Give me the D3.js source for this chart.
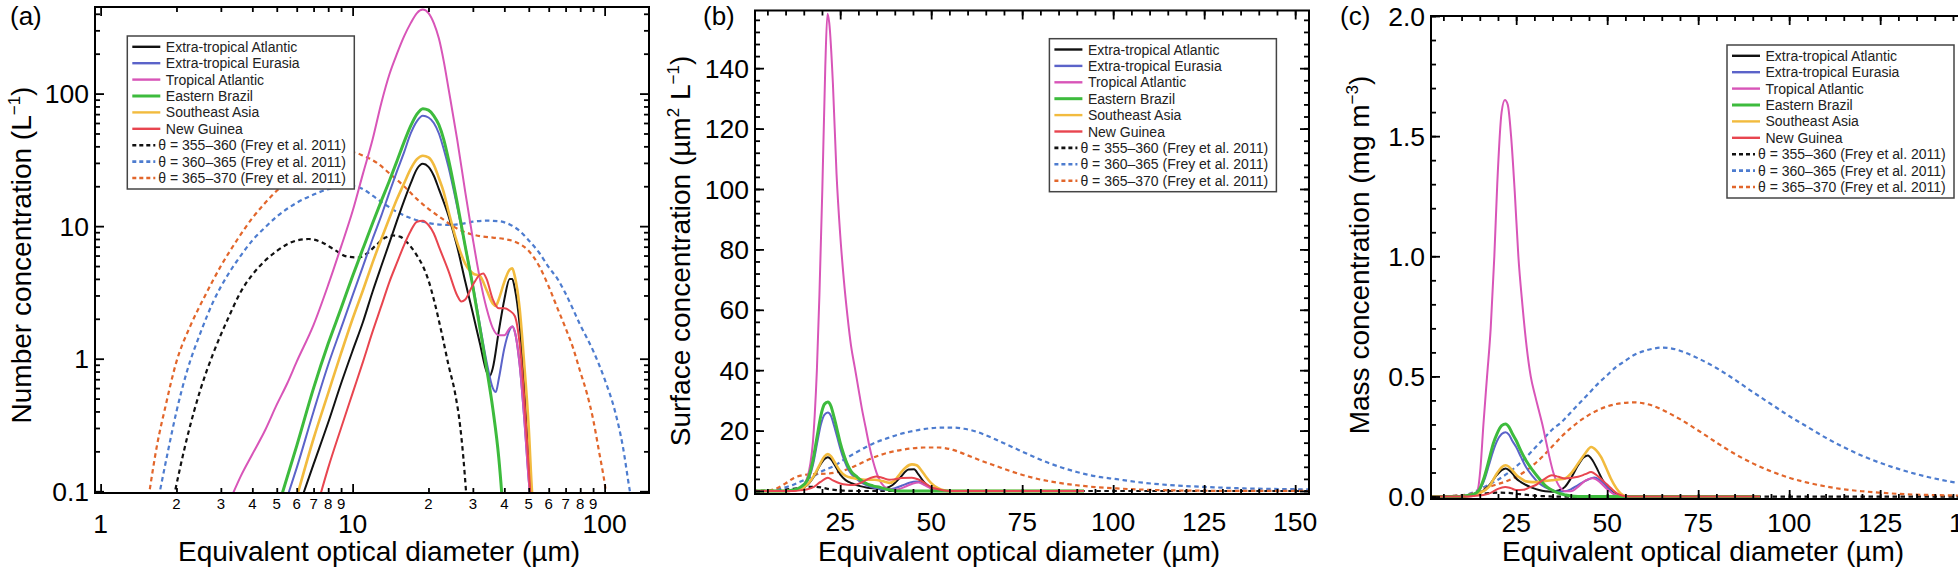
<!DOCTYPE html>
<html><head><meta charset="utf-8">
<script src="https://cdn.jsdelivr.net/npm/d3@7"></script>
<style>
html,body{margin:0;padding:0;background:#fff;}
svg{display:block;font-family:"Liberation Sans",Arial,Helvetica,sans-serif;}
</style></head><body>
<svg id="chart" width="1958" height="575"></svg>
<script>
// ---------- categories / legend ----------
const seriesNames = ["Extra-tropical Atlantic","Extra-tropical Eurasia","Tropical Atlantic","Eastern Brazil","Southeast Asia","New Guinea",
  "θ = 355–360 (Frey et al. 2011)","θ = 360–365 (Frey et al. 2011)","θ = 365–370 (Frey et al. 2011)"];
const seriesColors = ["#111111","#5b63c9","#d855b8","#3dbb3d","#f2bb3e","#e8454f","#111111","#4d7ccf","#e2662b"];
const seriesWidths = [2,2,2,3,2.6,2,2.2,2.2,2.2];
const seriesDashed = [false,false,false,false,false,false,true,true,true];

// ---------- panel (a): number concentration (L^-1) vs diameter (µm) ----------
const numETA = [[6.3,0.09],[7,0.16],[8,0.33],[9,0.65],[10,1.15],[11,1.9],[12,3.2],[13,5],[14,7.5],[15,11],[16,15.5],[17,21],[18,27],[19,29.5],[20,28],[21,24],[22,19],[24,12],[26,7],[28,3.8],[30,2.2],[32,1.3],[34,0.8],[35,0.74],[36,0.85],[38,1.6],[40,2.8],[42,4.0],[43,4.0],[44,3.4],[46,1.8],[48,0.6],[50,0.15],[51,0.08]];
const numETE = [[5.5,0.09],[6,0.15],[7,0.4],[8,0.9],[9,1.7],[10,3],[11,5],[12,8],[13,12],[14,18],[15,26],[16,36],[17,50],[18,62],[19,68],[20,66],[21,60],[22,50],[23,38],[24,28],[26,14],[28,7],[30,3.6],[32,1.8],[34,0.95],[36,0.6],[37,0.56],[38,0.7],[40,1.2],[42,1.65],[43,1.75],[44,1.6],[46,0.9],[48,0.35],[50,0.12],[51,0.08]];
const numTA  = [[3.3,0.09],[3.6,0.13],[4,0.19],[4.5,0.29],[5,0.45],[5.5,0.65],[6,0.95],[7,1.8],[8,3.6],[9,7],[10,13],[11,25],[12,45],[13,85],[14,140],[15,200],[16,270],[17,340],[18,405],[19,430],[20,405],[21,340],[22,260],[23,175],[24,110],[26,45],[28,18],[30,8],[32,4],[34,2.4],[36,1.7],[38,1.5],[40,1.5],[42,1.7],[43,1.75],[44,1.6],[46,0.9],[48,0.35],[50,0.12],[51,0.08]];
const numEB  = [[5.2,0.09],[6,0.22],[7,0.6],[8,1.3],[9,2.4],[10,4.2],[11,6.8],[12,10.5],[13,15.5],[14,22],[15,31],[16,43],[17,57],[18,70],[19,77],[20,75],[21,68],[22,58],[23,45],[24,32],[26,15],[28,7],[30,3.5],[32,1.7],[34,0.85],[36,0.42],[38,0.18],[39,0.1],[39.5,0.07]];
const numSEA = [[6,0.09],[7,0.25],[8,0.55],[9,1.1],[10,2],[11,3.3],[12,5.3],[13,8],[14,11.5],[15,16],[16,21],[17,27],[18,32],[19,34],[20,33],[21,29],[22,23],[23,18],[24,13],[26,7.5],[28,5.2],[30,4.4],[32,4.2],[34,3.3],[36,2.6],[37,2.5],[38,2.8],[40,3.8],[42,4.7],[43,4.8],[44,4.2],[46,2.4],[48,0.9],[50,0.3],[51.5,0.1],[52,0.08]];
const numNG  = [[7.4,0.09],[8,0.15],[9,0.3],[10,0.55],[11,0.95],[12,1.6],[13,2.5],[14,3.8],[15,5.3],[16,7.2],[17,9.2],[18,10.8],[19,11],[20,10.2],[21,8.8],[22,7],[24,4.6],[26,3],[27,2.7],[28,2.8],[30,3.6],[32,4.3],[33,4.4],[34,4.0],[36,2.8],[38,2.4],[40,2.4],[42,2.3],[44,2.1],[46,1.3],[48,0.5],[50,0.15],[51,0.08]];
const numF355 = [[1.95,0.09],[2.2,0.25],[2.5,0.6],[2.8,1.1],[3.2,2],[3.6,3.2],[4,4.3],[4.5,5.5],[5,6.5],[5.5,7.3],[6,7.8],[6.7,8],[7.5,7.6],[8.5,6.6],[9.5,5.9],[10.5,5.8],[11.5,6.3],[12.5,7.3],[13.5,8.2],[14.5,8.5],[15.5,8.3],[16.5,7.5],[18,6],[19,5],[20,3.9],[21,2.8],[22.5,1.6],[24,0.9],[25.5,0.55],[26.5,0.35],[27.5,0.18],[28.3,0.09]];
const numF360 = [[1.7,0.09],[1.85,0.2],[2,0.4],[2.2,0.8],[2.5,1.6],[2.8,2.7],[3.2,4.3],[3.6,6],[4,7.8],[4.5,9.8],[5,11.8],[6,15],[7,17.3],[8,19],[9,19.8],[10,20],[11,19],[12,17],[13.5,14.5],[15,12.8],[17,11.5],[19,10.8],[21,10.4],[24,10.2],[27,10.4],[30,10.8],[34,11],[38,10.9],[42,10.3],[46,9.2],[50,7.8],[55,6.3],[60,4.9],[65,4.0],[70,3.1],[80,1.8],[90,1.15],[100,0.7],[110,0.4],[118,0.22],[126,0.1],[128,0.085]];
const numF365 = [[1.55,0.09],[1.68,0.23],[1.8,0.42],[2,0.95],[2.28,1.8],[2.6,3],[3,5],[3.5,8],[4,11.5],[4.5,15],[5,18.5],[6,25],[7,30],[8,34],[9,36],[10,36],[11,34],[12.5,30],[14,25],[16,20],[18,16],[20,13.5],[22.5,11.5],[25,10],[28,9],[32,8.4],[36,8.2],[40,8],[45,7.5],[50,6.5],[55,5],[60,3.5],[65,2.4],[70,1.7],[75,1.2],[80,0.8],[85,0.55],[90,0.35],[95,0.2],[99,0.13],[102,0.09]];

// ---------- panel (b): surface concentration (µm2 L^-1) ----------
const surfETA = [[1,0],[10,0],[13,0.3],[15,1.1],[16.5,2.6],[18,5.2],[19.5,8.6],[20.7,10.6],[21.6,11.2],[22.5,10.5],[23.5,8.6],[25,5.5],[26.5,3.6],[28.5,2.4],[30.5,1.6],[32.5,1.1],[34.5,0.8],[36,0.6],[37.5,0.9],[39.4,2],[41.5,4.5],[43.8,7.1],[45.3,7.2],[46.5,5.5],[48,3],[49.7,1.2],[51.9,0.2],[54,0],[92,0]];
const surfETE = [[1,0],[10,0],[12,0.3],[14,1],[16,3.2],[17.5,8.5],[18.7,16],[19.7,22],[20.7,25.3],[21.6,26],[22.5,24.8],[23.3,21.7],[24.1,18.2],[25,14.2],[26,10.5],[26.8,8.2],[28,5.7],[29.5,4],[31,2.7],[32.5,1.8],[34,1.1],[36,0.6],[38,0.5],[40,0.9],[42,1.8],[44,2.7],[46,3.1],[48,2.4],[50,1.1],[52,0.3],[54,0],[92,0]];
const surfTA  = [[1,0],[12,0],[13,0.2],[14,0.8],[15,2],[16,4.5],[16.8,9],[17.5,16],[18,25],[18.6,40],[19.3,65],[20.1,100],[20.9,140],[21.5,158],[22,155],[23,135],[24,105],[25,85],[26,70],[27,58],[28,48],[29,41],[30,34],[31,27],[32,21],[33,15],[34,10],[35,6],[36,3.2],[37,1.6],[38,0.8],[39.5,0.4],[41,0.6],[43,1.5],[45,2.5],[46.5,2.8],[48,2],[50,0.8],[52,0.2],[55,0],[92,0]];
const surfEB  = [[1,0],[10,0],[12,0.3],[14,1.2],[16,3.7],[17.5,10],[18.7,18.3],[19.7,25],[20.7,28.8],[21.6,29.5],[22.5,28],[23.3,24.5],[24.1,20.6],[25,16],[26,12],[26.8,9.3],[28,6.5],[29.5,4.8],[31,3.3],[32.5,2.3],[34,1.7],[36,1.2],[38,0.5],[40,0.1],[42,0],[92,0]];
const surfSEA = [[1,0],[10,0],[13,0.3],[15,1.2],[16.5,2.8],[18,5.5],[19.5,9],[20.7,11.5],[21.6,12.2],[22.5,11.5],[23.5,9.5],[25,6.6],[26.5,5],[28.5,4.3],[30.5,3.9],[32.5,3.7],[34.5,3.7],[36.5,3.3],[38.5,2.7],[40,3.5],[41.5,5.8],[43,7.8],[44.7,8.8],[46,8.5],[47.5,6.5],[48.5,4.8],[50,2.6],[51.9,0.9],[53.5,0.2],[55,0],[92,0]];
const surfNG  = [[1,0],[12,0],[14,0.2],[16,0.6],[17.8,1.4],[19.6,3],[21.6,4.4],[23,3.5],[25,2.5],[27,2.1],[28.6,2],[30.5,2.6],[32.2,3.7],[34.9,4.8],[36.5,4.4],[38.5,3.7],[40,3.9],[41.9,4.3],[44.7,4.4],[46.5,3.8],[48.3,2.6],[50,1.3],[51.9,0.6],[53.5,0.15],[55,0],[92,0]];
const surfF355 = [[1,0],[5,0.05],[8,0.3],[11,0.6],[14,1],[16,1.3],[18,1.4],[20,1.1],[22,0.6],[24,0.3],[26,0.1],[28,0.02],[30,0],[156,0]];
const surfF360 = [[1,0],[5,0.05],[7,0.4],[9,0.9],[11.5,1.8],[14.5,3.3],[17.8,5],[20.4,6.8],[23.2,8.2],[26.2,10.5],[29,12.5],[32,14.5],[35,16.2],[38,17.5],[41,18.7],[44,19.6],[47,20.3],[50,20.8],[53,21],[56,21],[59,20.6],[62,19.8],[66.7,17.6],[70,15.8],[74,13.6],[78,11.4],[82,9.4],[86,7.7],[90,6.3],[95,4.9],[101,3.9],[107,2.9],[113,2.2],[119,1.7],[124,1.4],[130,1.1],[136,0.85],[143,0.7],[156,0.5]];
const surfF365 = [[1,0],[5,0.1],[7.6,0.9],[10,2.5],[12.3,4.3],[15,5.3],[18,5.6],[21,5.7],[24,6.2],[27,7.2],[30,8.8],[33,10.5],[36,11.9],[40,13.2],[44,14],[48,14.4],[52,14.4],[56,13.6],[60,11.8],[64,9.9],[68,8.2],[72,6.5],[76,5],[80,3.8],[85,2.7],[90,1.9],[95,1.3],[101,0.85],[107,0.5],[113,0.28],[120,0.13],[130,0.05],[140,0.02],[156,0]];

// ---------- panel (c): mass concentration (mg m^-3) ----------
const massETA = [[1,0],[10,0],[13,0.005],[15,0.015],[17.5,0.045],[19.7,0.09],[21,0.11],[22.1,0.117],[23,0.11],[24,0.095],[25,0.075],[26.3,0.06],[27.7,0.048],[29.5,0.036],[31.3,0.027],[33,0.022],[34.8,0.02],[36.6,0.025],[38.4,0.04],[40,0.075],[42,0.13],[43.5,0.162],[44.7,0.171],[46,0.15],[47.4,0.11],[48.7,0.07],[50,0.04],[51.5,0.018],[52.7,0.007],[54,0],[92,0]];
const massETE = [[1,0],[10,0],[12,0.005],[14,0.015],[15,0.03],[16.5,0.08],[17.5,0.13],[18.7,0.19],[19.7,0.23],[21,0.26],[22.1,0.268],[23,0.258],[24,0.23],[25,0.206],[26.3,0.165],[27.7,0.123],[29.5,0.085],[31.3,0.055],[33,0.038],[34.8,0.027],[36.6,0.02],[38.4,0.022],[40,0.03],[42,0.048],[44,0.065],[46.5,0.079],[48,0.068],[50,0.04],[51.5,0.015],[53,0.004],[55,0],[92,0]];
const massTA  = [[1,0],[12,0],[13.5,0.004],[14.5,0.03],[15.2,0.12],[16,0.3],[17,0.5],[18,0.7],[19,1.0],[19.8,1.3],[21,1.6],[21.9,1.65],[22.7,1.63],[23.6,1.5],[24.6,1.27],[25.6,1.0],[26.7,0.8],[27.9,0.62],[29,0.5],[30.2,0.42],[31.2,0.36],[32.2,0.3],[33.2,0.23],[34.2,0.16],[35.2,0.1],[36.2,0.06],[37.2,0.035],[38.5,0.022],[40,0.022],[42,0.04],[44,0.066],[46,0.076],[48,0.06],[50,0.03],[52,0.008],[54,0],[92,0]];
const massEB  = [[1,0],[10,0],[12,0.005],[14,0.015],[14.8,0.027],[16,0.07],[17.5,0.15],[18.7,0.22],[19.7,0.26],[21,0.295],[22.1,0.302],[23,0.29],[24,0.26],[25,0.233],[26.3,0.19],[27.7,0.15],[29.5,0.11],[31.3,0.075],[33,0.045],[34.8,0.027],[36.6,0.014],[38.4,0.007],[40,0.002],[42,0],[92,0]];
const massSEA = [[1,0],[10,0],[13,0.005],[15,0.015],[17.5,0.04],[19.7,0.096],[21,0.122],[22.1,0.13],[23,0.124],[24,0.108],[25,0.09],[26.3,0.075],[27.7,0.063],[29.5,0.06],[31.3,0.061],[33,0.065],[34.8,0.068],[36.6,0.071],[38.4,0.075],[40,0.095],[42,0.137],[44,0.18],[45.6,0.206],[47,0.192],[48.3,0.165],[49.7,0.12],[51,0.075],[52.5,0.035],[53.7,0.013],[55,0.002],[56,0],[92,0]];
const massNG  = [[1,0],[12,0],[14,0.003],[16,0.006],[18,0.015],[20,0.032],[22,0.04],[23.5,0.035],[25,0.027],[27,0.028],[28.7,0.038],[30.4,0.048],[32.5,0.07],[34.8,0.089],[36.6,0.082],[38.4,0.075],[40,0.077],[42,0.082],[44,0.093],[45.6,0.102],[47.4,0.085],[49.2,0.061],[51,0.035],[52.7,0.013],[54.5,0.002],[56,0],[92,0]];
const massF355 = [[1,0],[8,0.002],[12,0.006],[16,0.012],[20,0.016],[23,0.015],[26,0.01],[29,0.005],[32,0.002],[35,0],[156,0]];
const massF360 = [[1,0],[8,0.003],[11.8,0.01],[15,0.03],[17.5,0.05],[20,0.07],[22.5,0.095],[25,0.125],[27.5,0.16],[30,0.2],[32.5,0.24],[35,0.28],[37.5,0.31],[40,0.35],[42.5,0.39],[45,0.43],[47.5,0.47],[50,0.505],[52.5,0.54],[55,0.565],[57.5,0.59],[60,0.605],[62.5,0.615],[65,0.62],[67.5,0.617],[70,0.607],[75,0.575],[80,0.535],[85,0.487],[90,0.435],[95,0.385],[100,0.335],[105,0.29],[110,0.245],[115,0.205],[120,0.17],[125,0.14],[130,0.115],[135,0.093],[140,0.075],[145,0.06],[156,0.04]];
const massF365 = [[1,0],[8,0.003],[11.8,0.008],[15,0.025],[17.5,0.04],[20,0.052],[22.5,0.065],[25,0.082],[27.5,0.105],[30,0.135],[32.5,0.17],[35,0.21],[37.5,0.25],[40,0.285],[42.5,0.315],[45,0.34],[47.5,0.36],[50,0.375],[52.5,0.385],[55,0.39],[57.5,0.392],[60,0.388],[62.5,0.378],[65,0.362],[67.5,0.343],[70,0.322],[75,0.275],[80,0.225],[85,0.178],[90,0.138],[95,0.105],[100,0.078],[105,0.058],[110,0.042],[115,0.03],[120,0.022],[125,0.016],[130,0.011],[140,0.006],[156,0.003]];

// ---------- tick values / labels ----------
const aXMajor = [1,10,100];
const aXMinor = [2,3,4,5,6,7,8,9,20,30,40,50,60,70,80,90];
const aYMajor = [0.1,1,10,100];
const aYMinor = [0.2,0.3,0.4,0.5,0.6,0.7,0.8,0.9,2,3,4,5,6,7,8,9,20,30,40,50,60,70,80,90,200,300,400];
const linXMajor = [25,50,75,100,125,150];
const linXMinor = d3.range(5,155,5);
const bYMajor = [0,20,40,60,80,100,120,140];
const bYMinor = d3.range(0,160,4);
const cYMajor = [0,0.5,1.0,1.5,2.0];
const cYMinor = d3.range(0,2.05,0.1);

const svg = d3.select("#chart");
const FONT = '"Liberation Sans", Arial, Helvetica, sans-serif';

function drawPanel(p) {
  const g = svg.append("g");
  const x = (p.xLog ? d3.scaleLog() : d3.scaleLinear()).domain(p.xDomain).range([p.x0, p.x1]);
  const y = (p.yLog ? d3.scaleLog() : d3.scaleLinear()).domain(p.yDomain).range([p.y1, p.y0]);
  const clipId = "clip" + p.id;
  svg.append("clipPath").attr("id", clipId).append("rect")
    .attr("x", p.x0).attr("y", p.y0).attr("width", p.x1 - p.x0).attr("height", p.y1 - p.y0);

  // curves
  const line = d3.line().x(d => x(d[0])).y(d => y(Math.max(d[1], p.yLog ? 1e-3 : -1e9))).curve(d3.curveMonotoneX);
  const order = [6,7,8,0,1,2,4,3,5];
  const cg = g.append("g").attr("clip-path", `url(#${clipId})`);
  order.forEach(i => {
    cg.append("path").datum(p.data[i]).attr("d", line)
      .attr("fill", "none").attr("stroke", seriesColors[i])
      .attr("stroke-width", seriesWidths[i])
      .attr("stroke-linejoin", "round")
      .attr("stroke-dasharray", seriesDashed[i] ? "4.5,3.5" : null);
  });

  // ticks (inward) on four sides
  const tk = (axis, tx, ty, vals, len) => {
    const a = g.append("g").attr("transform", `translate(${tx},${ty})`)
      .call(axis.tickValues(vals).tickSize(-len).tickFormat(""));
    a.select(".domain").remove();
    a.selectAll("line").attr("stroke", "#000").attr("stroke-width", 1.8);
  };
  const MAJ = 9, MIN = 5;
  tk(d3.axisBottom(x), 0, p.y1, p.xMinor, MIN);
  tk(d3.axisBottom(x), 0, p.y1, p.xMajor, MAJ);
  tk(d3.axisTop(x), 0, p.y0, p.xMinor, MIN);
  tk(d3.axisTop(x), 0, p.y0, p.xMajor, MAJ);
  tk(d3.axisLeft(y), p.x0, 0, p.yMinor, MIN);
  tk(d3.axisLeft(y), p.x0, 0, p.yMajor, MAJ);
  tk(d3.axisRight(y), p.x1, 0, p.yMinor, MIN);
  tk(d3.axisRight(y), p.x1, 0, p.yMajor, MAJ);

  // frame
  g.append("rect").attr("x", p.x0).attr("y", p.y0).attr("width", p.x1 - p.x0).attr("height", p.y1 - p.y0)
    .attr("fill", "none").attr("stroke", "#000").attr("stroke-width", 2);

  // tick labels
  g.append("g").selectAll("text").data(p.xMajor).join("text")
    .attr("x", d => x(d)).attr("y", p.xMajorBase).attr("text-anchor", "middle")
    .attr("font-size", 26.5).text(p.xFmt);
  if (p.xMinorLabels) {
    g.append("g").selectAll("text").data(p.xMinorLabels).join("text")
      .attr("x", d => x(d)).attr("y", p.y1 + 16).attr("text-anchor", "middle")
      .attr("font-size", 15).text(d => String(d).charAt(0));
  }
  g.append("g").selectAll("text").data(p.yMajor).join("text")
    .attr("x", p.x0 - 6).attr("y", d => y(d)).attr("dy", "0.36em").attr("text-anchor", "end")
    .attr("font-size", 26.5).text(p.yFmt);

  // x title
  g.append("text").attr("x", p.xTitleX).attr("y", 561).attr("text-anchor", "middle")
    .attr("font-size", 28).text("Equivalent optical diameter (µm)");

  // y title with superscripts
  const yt = g.append("text").attr("transform", `translate(${p.yTitleX},${p.yTitleY}) rotate(-90)`)
    .attr("text-anchor", "middle").attr("font-size", 28);
  let up = false;
  p.yTitle.forEach(part => {
    const t = yt.append("tspan").text(part.t);
    if (part.sup) { t.attr("font-size", 17).attr("dy", -11); up = true; }
    else if (up) { t.attr("dy", 11); up = false; }
  });

  // panel label
  g.append("text").attr("x", p.labX).attr("y", 25).attr("font-size", 26).text(p.label);

  // legend
  const lg = g.append("g").attr("transform", `translate(${p.legX},${p.legY})`);
  lg.append("rect").attr("width", 227).attr("height", 153).attr("fill", "#fff")
    .attr("stroke", "#444").attr("stroke-width", 1.5);
  seriesNames.forEach((name, i) => {
    const cy = 10.8 + i * 16.4;
    lg.append("line").attr("x1", 5).attr("x2", seriesDashed[i] ? 28 : 33).attr("y1", cy).attr("y2", cy)
      .attr("stroke", seriesColors[i]).attr("stroke-width", seriesDashed[i] ? 2.6 : (i === 3 ? 3 : 2.4))
      .attr("stroke-dasharray", seriesDashed[i] ? "4,3" : null);
    lg.append("text").attr("x", seriesDashed[i] ? 31 : 38.5).attr("y", cy).attr("dy", "0.36em")
      .attr("font-size", 14).attr("fill", "#222").text(name);
  });
}

drawPanel({
  id: "a", label: "(a)", labX: 10,
  x0: 95, x1: 649, y0: 7, y1: 493,
  xLog: true, yLog: true, xDomain: [0.95, 150], yDomain: [0.097, 450],
  data: [numETA, numETE, numTA, numEB, numSEA, numNG, numF355, numF360, numF365],
  xMajor: aXMajor, xMinor: aXMinor, yMajor: aYMajor, yMinor: aYMinor,
  xMinorLabels: aXMinor, xMajorBase: 533, xFmt: d => String(d), yFmt: d => String(d),
  xTitleX: 379, yTitleX: 31, yTitleY: 255,
  yTitle: [{t: "Number concentration (L"}, {t: "−1", sup: true}, {t: ")"}],
  legX: 127.3, legY: 36
});

drawPanel({
  id: "b", label: "(b)", labX: 703,
  x0: 755, x1: 1309, y0: 10.5, y1: 494,
  xLog: false, yLog: false, xDomain: [1.6, 153.8], yDomain: [-1, 159.1],
  data: [surfETA, surfETE, surfTA, surfEB, surfSEA, surfNG, surfF355, surfF360, surfF365],
  xMajor: linXMajor, xMinor: linXMinor, yMajor: bYMajor, yMinor: bYMinor,
  xMinorLabels: null, xMajorBase: 531, xFmt: d => String(d), yFmt: d => String(d),
  xTitleX: 1019, yTitleX: 690, yTitleY: 251,
  yTitle: [{t: "Surface concentration (µm"}, {t: "2", sup: true}, {t: " L"}, {t: "−1", sup: true}, {t: ")"}],
  legX: 1049.4, legY: 38.7
});

drawPanel({
  id: "c", label: "(c)", labX: 1340,
  x0: 1431, x1: 1985, y0: 16, y1: 499,
  xLog: false, yLog: false, xDomain: [1.6, 153.8], yDomain: [-0.0103, 2.0],
  data: [massETA, massETE, massTA, massEB, massSEA, massNG, massF355, massF360, massF365],
  xMajor: linXMajor, xMinor: linXMinor, yMajor: cYMajor, yMinor: cYMinor,
  xMinorLabels: null, xMajorBase: 532, xFmt: d => String(d), yFmt: d => d.toFixed(1),
  xTitleX: 1703, yTitleX: 1369, yTitleY: 255,
  yTitle: [{t: "Mass concentration (mg m"}, {t: "−3", sup: true}, {t: ")"}],
  legX: 1727, legY: 45
});
</script>
</body></html>
